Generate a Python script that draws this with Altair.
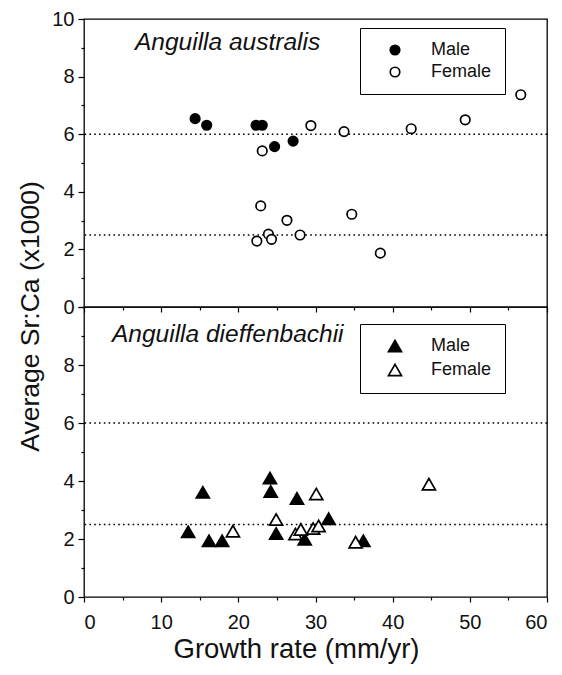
import altair as alt
import pandas as pd

# ---- data ----
sex_levels = ["Male", "Female"]
ref_lines = [6.0, 2.5]
panel_titles = ["Anguilla australis", "Anguilla dieffenbachii"]

aus_male_x = [14.4, 15.9, 22.3, 23.1, 24.7, 27.1]
aus_male_y = [6.54, 6.31, 6.31, 6.31, 5.57, 5.76]
aus_female_x = [29.4, 33.7, 42.4, 49.4, 56.6, 23.1, 22.9, 26.3, 34.7, 23.9, 28.0, 22.4, 24.3, 38.4]
aus_female_y = [6.30, 6.09, 6.19, 6.50, 7.37, 5.42, 3.51, 3.01, 3.22, 2.53, 2.50, 2.29, 2.35, 1.87]

die_male_x = [13.5, 15.4, 16.2, 17.9, 24.1, 24.2, 24.9, 27.6, 28.6, 31.7, 36.2]
die_male_y = [2.25, 3.61, 1.94, 1.94, 4.10, 3.64, 2.19, 3.40, 1.99, 2.70, 1.94]
die_female_x = [19.3, 30.1, 24.9, 27.4, 28.1, 29.7, 30.4, 35.2, 44.7]
die_female_y = [2.27, 3.55, 2.67, 2.17, 2.33, 2.36, 2.45, 1.89, 3.89]

y_ticks = list(range(0, 11))
x_ticks = list(range(0, 61, 5))

FONT = "Liberation Sans"
W, H_TOP, H_BOT = 463, 288, 290


def frame(mx, my, fx, fy):
    return pd.DataFrame({
        "growth": mx + fx,
        "srca": my + fy,
        "sex": ["Male"] * len(mx) + ["Female"] * len(fx),
    })


def tick_size(test, major, minor):
    return {"condition": {"test": test, "value": major}, "value": minor}


def panel(df, shape, size, title, title_x, title_y, height, bottom, legend_y):
    x_kwargs = dict(
        values=x_ticks, grid=False, domain=False,
        tickSize=tick_size("datum.value % 10 == 0", 5, 3),
        tickColor="black", tickWidth=1.2,
        labelExpr="datum.value % 10 == 0 ? datum.label : ''",
        labelFont=FONT, labelFontSize=20, labelColor="#111", labelPadding=10,
        titleFont=FONT, titleFontSize=27.5, titleFontWeight="normal", titleColor="#111",
        titlePadding=3,
    )
    if bottom:
        x_kwargs.update(title="Growth rate (mm/yr)", titleX=212, titleAlign="center")
    else:
        x_kwargs["title"] = ""
        x_kwargs["labels"] = False

    if bottom:
        ylab = "datum.value % 2 == 0 && datum.value < 10 ? datum.label : ''"
    else:
        ylab = "datum.value % 2 == 0 ? datum.label : ''"
    y_kwargs = dict(
        values=y_ticks, grid=False, domain=False,
        tickSize=tick_size("datum.value % 2 == 0", 6, 3),
        tickColor="black", tickWidth=1.2,
        labelExpr=ylab,
        labelFont=FONT, labelFontSize=20, labelColor="#111", labelPadding=4,
    )
    if bottom:
        y_kwargs["title"] = ""
    else:
        y_kwargs.update(
            title="Average Sr:Ca (x1000)", titleFont=FONT, titleFontSize=26.5,
            titleFontWeight="normal", titleColor="#111",
            titleX=-54, titleY=H_TOP + 9, titleAngle=-90, titleAlign="center",
            titleBaseline="middle",
        )

    xenc = alt.X("growth:Q", scale=alt.Scale(domain=[0, 60], nice=False), axis=alt.Axis(**x_kwargs))
    yenc = alt.Y("srca:Q", scale=alt.Scale(domain=[0, 10], nice=False), axis=alt.Axis(**y_kwargs))

    rules = alt.Chart(pd.DataFrame({"srca": ref_lines})).mark_rule(
        color="black", strokeWidth=1.6, strokeDash=[1.6, 3.2]
    ).encode(y=alt.Y("srca:Q", scale=alt.Scale(domain=[0, 10], nice=False), axis=alt.Axis(**y_kwargs)))

    pts = alt.Chart(df).mark_point(
        shape=shape, filled=True, size=size, stroke="black", strokeWidth=1.7, opacity=1
    ).encode(
        x=xenc, y=yenc,
        fill=alt.Fill(
            "sex:N",
            scale=alt.Scale(domain=sex_levels, range=["black", "white"]),
            sort=sex_levels,
            legend=alt.Legend(
                title=None, orient="none", legendX=276, legendY=legend_y,
                padding=13, strokeColor="black", fillColor="white",
                symbolType=shape, symbolSize=size, symbolStrokeColor="black",
                symbolStrokeWidth=1.7, symbolOffset=13, labelOffset=27,
                labelFont=FONT, labelFontSize=18, labelColor="#111", rowPadding=4,
            ),
        ),
    )

    ttl = alt.Chart(pd.DataFrame({"t": [title]})).mark_text(
        align="left", baseline="alphabetic", font=FONT, fontSize=24.5,
        fontStyle="italic", color="#111", x=title_x, y=title_y,
    ).encode(text="t:N")

    return alt.layer(rules, pts, ttl).properties(width=W, height=height)


top = panel(frame(aus_male_x, aus_male_y, aus_female_x, aus_female_y),
            "circle", 90, panel_titles[0], 51, 31, H_TOP, False, 9)
bot = panel(frame(die_male_x, die_male_y, die_female_x, die_female_y),
            "triangle-up", 170, panel_titles[1], 28, 35, H_BOT, True, 17)

chart = alt.vconcat(top, bot, spacing=0, bounds="flush").resolve_scale(
    fill="independent"
).resolve_legend(fill="independent").configure_view(
    stroke="black", strokeWidth=1.3
).properties(padding={"left": 8, "top": 0, "right": 0, "bottom": 3})

chart.save("out.html", embed_options={"renderer": "svg", "actions": False})
